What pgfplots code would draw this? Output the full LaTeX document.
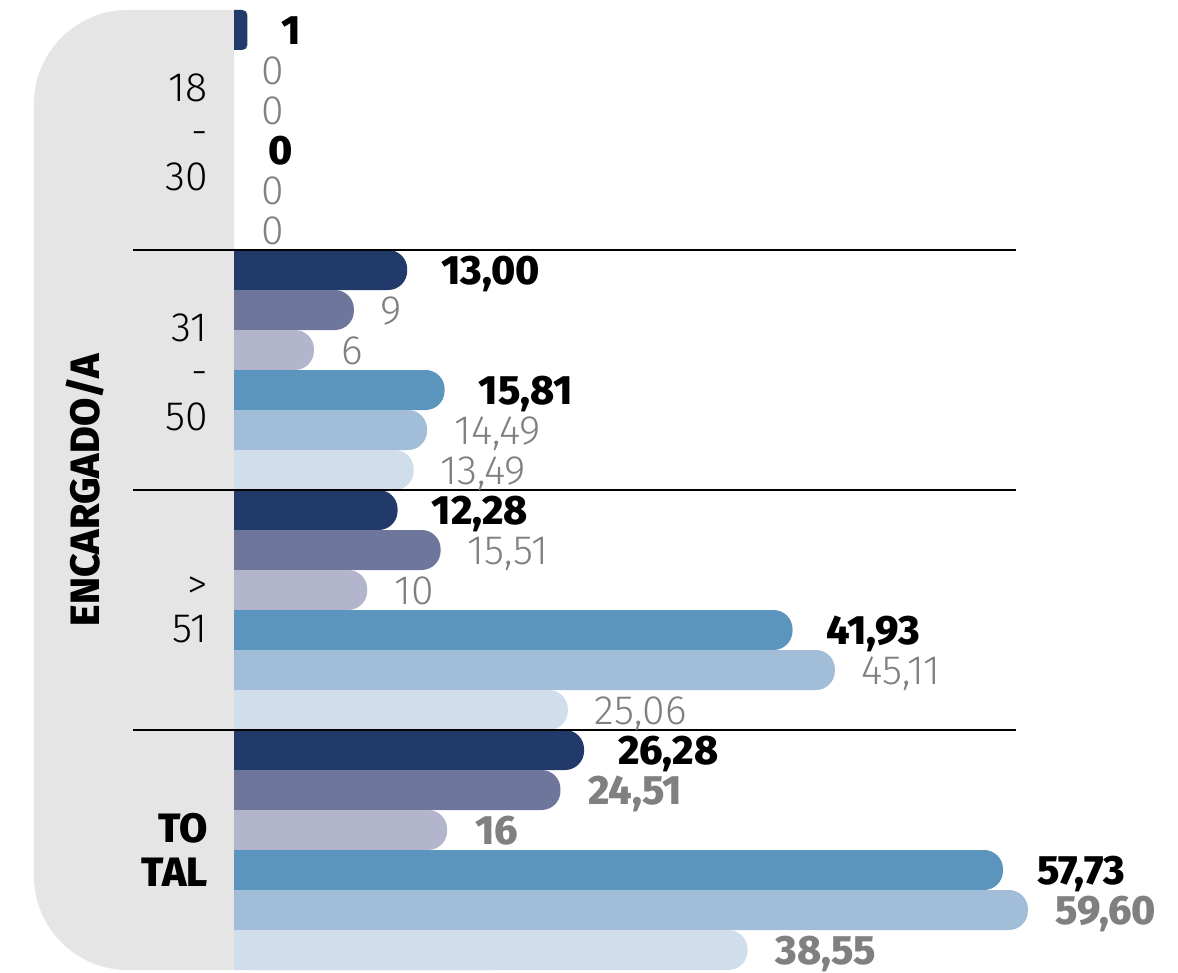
\documentclass[border=0pt]{standalone}
\usepackage{fontspec}
\usepackage{pgfplots}
\usepackage{pgfplotstable}
\pgfplotsset{compat=1.18}
\newfontfamily\flight{Fira Sans Light}
\newfontfamily\fbold{Fira Sans ExtraBold}
\definecolor{c1}{HTML}{213A69}
\definecolor{c2}{HTML}{6E769C}
\definecolor{c3}{HTML}{B3B5CD}
\definecolor{c4}{HTML}{5B94BC}
\definecolor{c5}{HTML}{A2BDD8}
\definecolor{c6}{HTML}{D0DEEB}
\definecolor{panel}{HTML}{E5E5E5}
\definecolor{lab}{HTML}{808080}

\pgfplotstableread{
y v lab
0 1 1
6 13 13,00
12 12.28 12,28
18 26.28 26,28
}\sA
\pgfplotstableread{
y v lab
1 0 0
7 9 9
13 15.51 15,51
19 24.51 24,51
}\sB
\pgfplotstableread{
y v lab
2 0 0
8 6 6
14 10 10
20 16 16
}\sC
\pgfplotstableread{
y v lab
3 0 0
9 15.81 15,81
15 41.93 41,93
21 57.73 57,73
}\sD
\pgfplotstableread{
y v lab
4 0 0
10 14.49 14,49
16 45.11 45,11
22 59.60 59,60
}\sE
\pgfplotstableread{
y v lab
5 0 0
11 13.49 13,49
17 25.06 25,06
23 38.55 38,55
}\sF

\pgfplotsset{
  rbar/.style={xbar, bar shift=0pt, bar width=1, draw=none, fill=#1,
    rounded corners=9.5pt, restrict x to domain=2.9:100},
  smallbar/.style={xbar, bar shift=0pt, bar width=1, draw=none, fill=#1,
    rounded corners=2.5pt, restrict x to domain=0.01:2.9},
  sbar/.style={xbar, bar shift=0pt, bar width=1, draw=none, fill=#1,
    restrict x to domain=0.01:100},
  lblL/.style={draw=none, mark=none, nodes near coords, point meta=explicit symbolic,
    every node near coord/.append style={anchor=base west, xshift=10pt, yshift=-7.2pt,
      text=lab, font=\flight\fontsize{20.5}{22}\selectfont}},
  lblB/.style={draw=none, mark=none, nodes near coords, point meta=explicit symbolic,
    every node near coord/.append style={anchor=base west, xshift=13.5pt, yshift=-7.2pt,
      text=black, font=\fbold\fontsize{20.5}{22}\selectfont}},
  lblG/.style={draw=none, mark=none, nodes near coords, point meta=explicit symbolic,
    every node near coord/.append style={anchor=base west, xshift=10.5pt, yshift=-7.2pt,
      text=lab, font=\fbold\fontsize{20.5}{22}\selectfont}},
}

\begin{document}
\begin{tikzpicture}
\useasboundingbox (0,-1.5pt) rectangle (589pt,485pt);
\begin{axis}[
  at={(0,0)}, anchor=south west,
  scale only axis, width=589pt, height=480pt,
  xmin=-17.57, xmax=70.87,
  ymin=-0.5, ymax=23.5, y dir=reverse,
  hide axis, clip=false,
]
% grey panel
\fill[panel] (axis cs:0,-0.5) [rounded corners=47pt] -- (axis cs:-15.02,-0.5)
   -- (axis cs:-15.02,23.5) [sharp corners] -- (axis cs:0,23.5) -- cycle;

% bars
\addplot[rbar=c1] table[x=v,y=y] {\sA};
\addplot[smallbar=c1] table[x=v,y=y] {\sA};
\addplot[sbar=c1] table[x expr=\thisrow{v}/2,y=y] {\sA};
\addplot[rbar=c2] table[x=v,y=y] {\sB};
\addplot[sbar=c2] table[x expr=\thisrow{v}/2,y=y] {\sB};
\addplot[rbar=c3] table[x=v,y=y] {\sC};
\addplot[sbar=c3] table[x expr=\thisrow{v}/2,y=y] {\sC};
\addplot[rbar=c4] table[x=v,y=y] {\sD};
\addplot[sbar=c4] table[x expr=\thisrow{v}/2,y=y] {\sD};
\addplot[rbar=c5] table[x=v,y=y] {\sE};
\addplot[sbar=c5] table[x expr=\thisrow{v}/2,y=y] {\sE};
\addplot[rbar=c6] table[x=v,y=y] {\sF};
\addplot[sbar=c6] table[x expr=\thisrow{v}/2,y=y] {\sF};

% labels
\addplot[lblB] table[x=v,y=y,meta=lab] {\sA};
\addplot[lblB] table[x=v,y=y,meta=lab] {\sD};
\addplot[lblL, restrict y to domain=0:17.5] table[x=v,y=y,meta=lab] {\sB};
\addplot[lblL, restrict y to domain=0:17.5] table[x=v,y=y,meta=lab] {\sC};
\addplot[lblL, restrict y to domain=0:17.5] table[x=v,y=y,meta=lab] {\sE};
\addplot[lblL, restrict y to domain=0:17.5] table[x=v,y=y,meta=lab] {\sF};
\addplot[lblG, restrict y to domain=17.5:24] table[x=v,y=y,meta=lab] {\sB};
\addplot[lblG, restrict y to domain=17.5:24] table[x=v,y=y,meta=lab] {\sC};
\addplot[lblG, restrict y to domain=17.5:24] table[x=v,y=y,meta=lab] {\sE};
\addplot[lblG, restrict y to domain=17.5:24] table[x=v,y=y,meta=lab] {\sF};

% separators
\draw[line width=1pt] (axis cs:-7.58,5.5) -- (axis cs:58.71,5.5);
\draw[line width=1pt] (axis cs:-7.58,11.5) -- (axis cs:58.71,11.5);
\draw[line width=1pt] (axis cs:-7.58,17.5) -- (axis cs:58.71,17.5);

% group labels
\node[align=right, anchor=east, font=\flight\fontsize{20.5}{22.3}\selectfont]
  at (axis cs:-1.45,2.55) {18\\-\\30};
\node[align=right, anchor=east, font=\flight\fontsize{20.5}{22.3}\selectfont]
  at (axis cs:-1.45,8.55) {31\\-\\50};
\node[align=right, anchor=east, font=\flight\fontsize{20.5}{22.3}\selectfont]
  at (axis cs:-1.45,14.5) {>\\51};
\node[align=right, anchor=east, font=\fbold\fontsize{20.5}{22.3}\selectfont]
  at (axis cs:-1.45,20.5) {TO\\TAL};
\node[rotate=90, font=\fbold\fontsize{20.5}{22}\selectfont]
  at (axis cs:-11.19,11.5) {ENCARGADO/A};
\end{axis}
\end{tikzpicture}
\end{document}
